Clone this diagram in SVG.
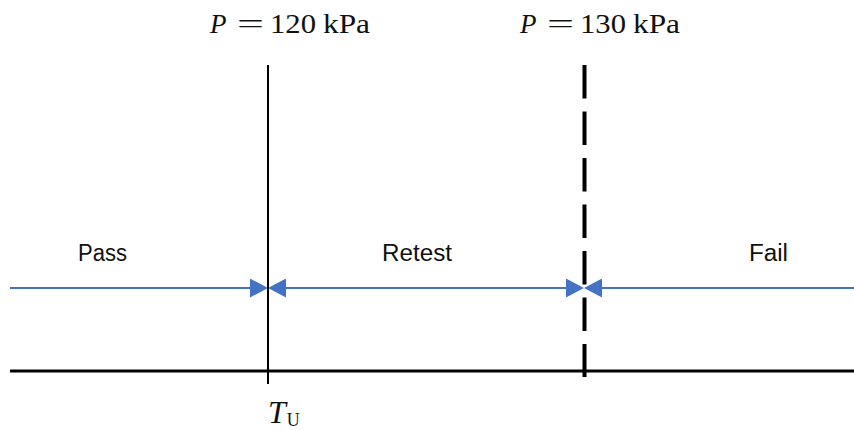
<svg xmlns="http://www.w3.org/2000/svg" width="854" height="430" viewBox="0 0 854 430">
  <style>
    .lbl { font-family: "Liberation Sans", Arial, sans-serif; font-size: 23px; fill: #111; }
    .math { font-family: "Liberation Serif", "Times New Roman", serif; font-size: 27px; fill: #111; }
    .arrow { stroke: #4472C4; stroke-width: 2; fill: none; }
    .axis { stroke: #000; fill: none; }
  </style>
  <defs>
    <marker id="ah" markerUnits="userSpaceOnUse" markerWidth="18" markerHeight="19" refX="12" refY="9.5" orient="auto-start-reverse" viewBox="0 0 18 19">
      <path d="M0,0 L18,9.5 L0,19 Z" fill="#4472C4"/>
    </marker>
  </defs>

  <g id="connectors">
    <line class="arrow" x1="10" y1="288" x2="262" y2="288" marker-end="url(#ah)"/>
    <line class="arrow" x1="274" y1="288" x2="578" y2="288" marker-start="url(#ah)" marker-end="url(#ah)"/>
    <line class="arrow" x1="854" y1="288" x2="590" y2="288" marker-end="url(#ah)"/>
  </g>

  <g id="axis">
    <line class="axis" x1="10" y1="371" x2="854" y2="371" stroke-width="3"/>
  </g>

  <g id="threshold-120">
    <line class="axis" x1="268" y1="65" x2="268" y2="384" stroke-width="2"/>
    <text class="math" y="33"><tspan x="210" font-style="italic">P</tspan><tspan x="237" textLength="27" lengthAdjust="spacingAndGlyphs">=</tspan><tspan x="270" textLength="46" lengthAdjust="spacingAndGlyphs">120</tspan><tspan x="323" textLength="47" lengthAdjust="spacingAndGlyphs">kPa</tspan></text>
  </g>

  <g id="threshold-130">
    <line class="axis" x1="584.5" y1="65" x2="584.5" y2="377" stroke-width="4" stroke-dasharray="33.5 13"/>
    <text class="math" y="33"><tspan x="520" font-style="italic">P</tspan><tspan x="547" textLength="27" lengthAdjust="spacingAndGlyphs">=</tspan><tspan x="580" textLength="46" lengthAdjust="spacingAndGlyphs">130</tspan><tspan x="633" textLength="47" lengthAdjust="spacingAndGlyphs">kPa</tspan></text>
  </g>

  <g id="pass">
    <text class="lbl" x="78" y="261" textLength="49" lengthAdjust="spacingAndGlyphs">Pass</text>
  </g>
  <g id="retest">
    <text class="lbl" x="382" y="261" textLength="70" lengthAdjust="spacingAndGlyphs">Retest</text>
  </g>
  <g id="fail">
    <text class="lbl" x="749" y="261" textLength="39" lengthAdjust="spacingAndGlyphs">Fail</text>
  </g>

  <g id="tu-label">
    <text class="math" x="268" y="423" style="font-size:32px"><tspan font-style="italic">T</tspan><tspan style="font-size:18px" dx="1" y="426">U</tspan></text>
  </g>
</svg>
